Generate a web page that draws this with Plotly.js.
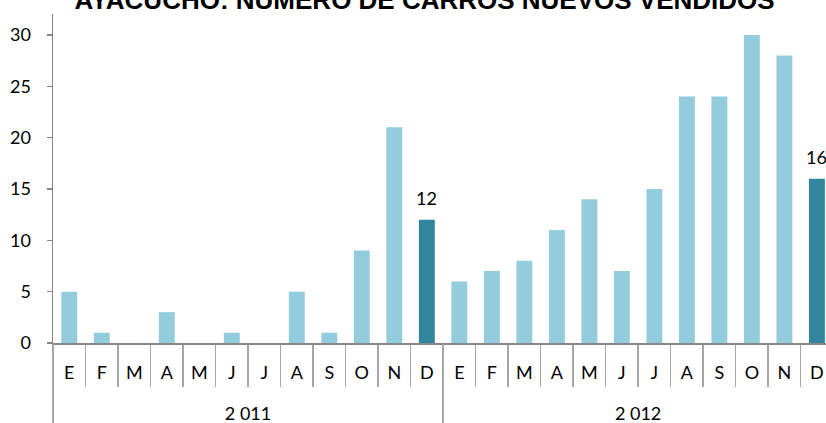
<!DOCTYPE html>
<html>
<head>
<meta charset="utf-8">
<script src="https://cdn.plot.ly/plotly-3.0.1.min.js"></script>
<style>html,body{margin:0;padding:0;background:#fff;}#chart{width:826px;height:423px;}</style>
</head>
<body>
<div id="chart"></div>
<script>
const years = ["2 011", "2 012"];
const months = ["E", "F", "M", "A", "M", "J", "J", "A", "S", "O", "N", "D"];
const sales2011 = [5, 1, 0, 3, 0, 1, 0, 5, 1, 9, 21, 12];
const sales2012 = [6, 7, 8, 11, 14, 7, 15, 24, 24, 30, 28, 16];
const yTicks = [0, 5, 10, 15, 20, 25, 30];
const chartTitle = "AYACUCHO: NÚMERO DE CARROS NUEVOS VENDIDOS";

const series = [sales2011, sales2012];
const keys = [], monthText = [], yVals = [], idx = [];
series.forEach((arr, yi) => {
  arr.forEach((v, mi) => {
    keys.push(years[yi] + "-" + (mi + 1));
    monthText.push(months[mi]);
    yVals.push(v);
    idx.push(keys.length - 1);
  });
});
const n = keys.length, per = months.length;
const lastIdx = per - 1;
const isHighlight = i => (i % per === lastIdx);
const colors = yVals.map((v, i) => isHighlight(i) ? "#31859C" : "#93CDDD");

const groupCenters = years.map((y, gi) => gi * per + (per - 1) / 2);
const groupBounds = years.map((y, gi) => gi * per - 0.5).concat([n - 0.5]);
const xRange = [-0.5, n - 0.5 - 0.22];

const trace = {
  type: "bar",
  x: keys,
  y: yVals,
  marker: { color: colors, line: { width: 0 } },
  hoverinfo: "y"
};

const baseFont = { family: "Lato, 'Open Sans', sans-serif", size: 18, color: "#000" };

const annotations = yVals.map((v, i) => isHighlight(i) ? {
  x: keys[i], y: v, xref: "x", yref: "y",
  text: String(v), showarrow: false,
  yanchor: "bottom", yshift: 9,
  font: baseFont
} : null).filter(a => a);

const layout = {
  width: 826, height: 423,
  margin: { l: 53, r: 0, t: 14, b: 80, pad: 0 },
  paper_bgcolor: "#fff", plot_bgcolor: "#fff",
  bargap: 0.51,
  showlegend: false,
  font: baseFont,
  annotations: annotations,
  title: {
    text: "<b>" + chartTitle + "</b>",
    font: { family: "'Liberation Sans', Arial, sans-serif", size: 26, color: "#000" },
    x: 0.514, xref: "container", xanchor: "center",
    y: 0.9995, yref: "container", yanchor: "middle"
  },
  xaxis: {
    type: "category",
    categoryorder: "array", categoryarray: keys,
    range: xRange,
    tickvals: keys, tickson: "boundaries",
    ticks: "outside", ticklen: 42, tickcolor: "#A6A6A6", tickwidth: 1.5,
    showticklabels: false,
    showline: true, linecolor: "#868686", linewidth: 1.5,
    showgrid: false, zeroline: false
  },
  xaxis2: {
    overlaying: "x", anchor: "y", side: "bottom",
    type: "linear", range: xRange,
    tickvals: idx, ticktext: monthText,
    ticks: "", showline: false, showgrid: false, zeroline: false,
    ticklabelstandoff: 17,
    tickfont: baseFont
  },
  xaxis3: {
    overlaying: "x", anchor: "y", side: "bottom",
    type: "linear", range: xRange,
    tickvals: groupCenters, ticktext: years,
    ticks: "", showline: false, showgrid: false, zeroline: false,
    ticklabelstandoff: 58,
    tickfont: baseFont
  },
  xaxis4: {
    overlaying: "x", anchor: "y", side: "bottom",
    type: "linear", range: xRange,
    tickvals: groupBounds, showticklabels: false,
    ticks: "outside", ticklen: 85, tickcolor: "#A6A6A6", tickwidth: 1.5,
    showline: false, showgrid: false, zeroline: false
  },
  yaxis: {
    range: [0, 32.04],
    tickvals: yTicks, ticktext: yTicks.map(String),
    showline: true, linecolor: "#868686", linewidth: 1.5,
    ticks: "outside", ticklen: 5, tickcolor: "#868686", tickwidth: 1.5,
    ticklabelstandoff: 12,
    showgrid: false, zeroline: false,
    tickfont: baseFont
  }
};

const helpers = ["x2", "x3", "x4"].map(ax => ({
  type: "scatter", x: [], y: [], xaxis: ax, yaxis: "y", hoverinfo: "skip", showlegend: false
}));

Plotly.newPlot("chart", [trace].concat(helpers), layout, { displayModeBar: false, staticPlot: true });
</script>
</body>
</html>
